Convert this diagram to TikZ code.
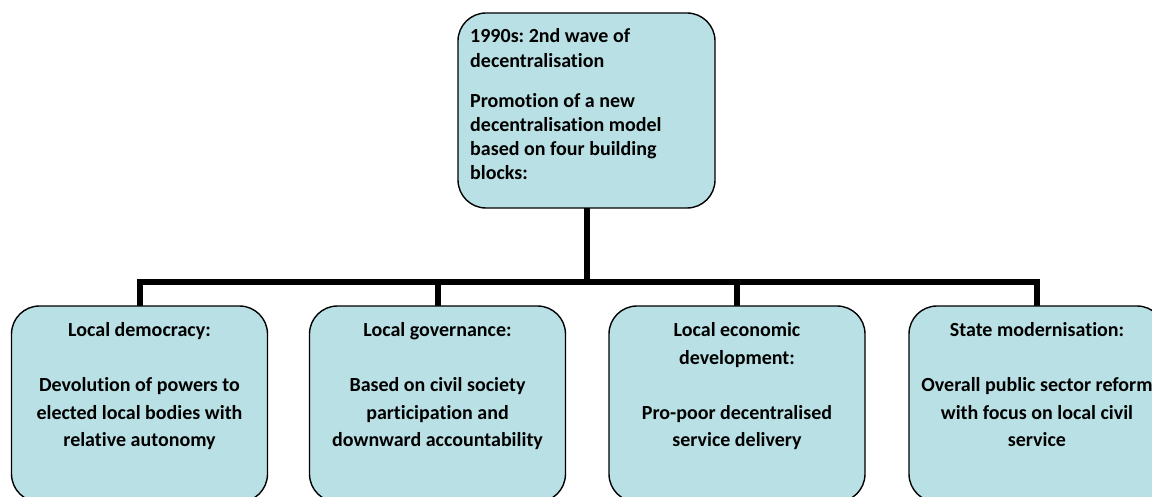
\documentclass[tikz,border=0pt]{standalone}
\usepackage{fontspec}
\setmainfont{Carlito}[Ligatures=NoCommon]
\frenchspacing
\usetikzlibrary{backgrounds}
\definecolor{boxfill}{RGB}{185,224,228}
\tikzset{
  boxshape/.style={draw=black, line width=1.4pt, fill=boxfill, rounded corners=28pt, inner sep=0pt},
  toptext/.style={inner sep=0pt, align=left, font={\fontsize{20}{24.3}\selectfont\bfseries}},
  bottext/.style={inner sep=0pt, align=center, font={\fontsize{20}{27.5}\selectfont\bfseries}},
  conn/.style={line width=6pt, line join=miter, line cap=rect}
}
\begin{document}
\begin{tikzpicture}[x=1pt,y=-1pt]
\useasboundingbox (0,0) rectangle (1152,497);
\coordinate (hy) at (586.5,282);
\node[boxshape, minimum width=257pt, minimum height=195pt] (top) at (586.5,110.5) {};
\node[boxshape, minimum width=256pt, minimum height=196pt] (b1) at (139.5,404) {};
\node[boxshape, minimum width=256pt, minimum height=196pt] (b2) at (437.5,404) {};
\node[boxshape, minimum width=256pt, minimum height=196pt] (b3) at (737,404) {};
\node[boxshape, minimum width=256pt, minimum height=196pt] (b4) at (1037,404) {};
\begin{scope}[on background layer]
\draw[conn] (top.south) -- (hy);
\draw[conn] (b1.north) |- (hy) -| (b4.north);
\draw[conn] (b2.north) -- (b2.north |- hy);
\draw[conn] (b3.north) -- (b3.north |- hy);
\end{scope}
\node[toptext, anchor=north west] (tt) at (470,28.5) {1990s: 2nd wave of\\decentralisation\\[15.7pt]Promotion of a new\\decentralisation model\\based on four building\\blocks:};
\node[bottext, anchor=north] (t1) at (b1.north |- 0,322.5) {Local democracy:\\[27.5pt]Devolution of powers to\\elected local bodies with\\relative autonomy};
\node[bottext, anchor=north] (t2) at (b2.north |- 0,322.5) {Local governance:\\[27.5pt]Based on civil society\\participation and\\downward accountability};
\node[bottext, anchor=north] (t3) at (b3.north |- 0,322.5) {Local economic\\development:\\[27.5pt]Pro-poor decentralised\\service delivery};
\node[bottext, anchor=north] (t4) at (b4.north |- 0,322.5) {State modernisation:\\[27.5pt]Overall public sector reform\\with focus on local civil\\service};
\end{tikzpicture}
\end{document}
